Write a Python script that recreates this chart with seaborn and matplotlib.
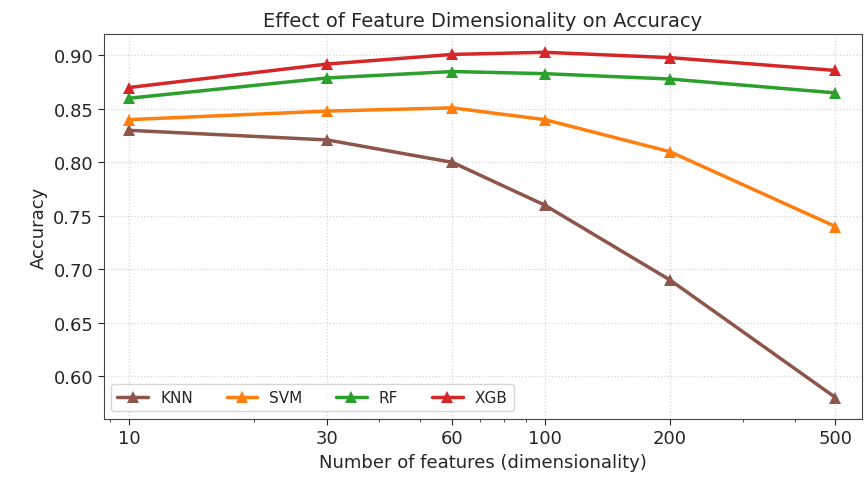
import pandas as pd
import numpy as np
import matplotlib.pyplot as plt
import seaborn as sns
from matplotlib.ticker import FixedLocator, FixedFormatter, LogLocator, NullFormatter

sns.set_style("white")
plt.rcParams['font.family'] = ['DejaVu Sans']

# Veri
n_features = [10, 30, 60, 100, 200, 500]
knn_acc = [0.830, 0.821, 0.800, 0.760, 0.690, 0.580]
svm_acc = [0.840, 0.848, 0.851, 0.840, 0.810, 0.740]
rf_acc = [0.860, 0.879, 0.885, 0.883, 0.878, 0.865]
xgb_acc = [0.870, 0.892, 0.901, 0.903, 0.898, 0.886]
models = ['KNN', 'SVM', 'RF', 'XGB']
colors = ['#8c564b', '#ff7f0e', '#2ca02c', '#d62728']

df = pd.DataFrame({
    'features': n_features * 4,
    'accuracy': knn_acc + svm_acc + rf_acc + xgb_acc,
    'model': sum([[m] * len(n_features) for m in models], []),
})

fig, ax = plt.subplots(figsize=(8.64, 4.81), dpi=100)
sns.lineplot(data=df, x='features', y='accuracy', hue='model', palette=colors,
             marker='^', markersize=9, markeredgewidth=0, linewidth=2.5, ax=ax)

ax.set_xscale('log')
ax.set_xlim(8.7, 580)
ax.set_ylim(0.56, 0.92)
ax.xaxis.set_major_locator(FixedLocator(n_features))
ax.xaxis.set_major_formatter(FixedFormatter([str(n) for n in n_features]))
ax.xaxis.set_minor_locator(LogLocator(base=10, subs=np.arange(2, 10)))
ax.xaxis.set_minor_formatter(NullFormatter())
ax.tick_params(axis='both', which='major', labelsize=13, length=4, direction='out', bottom=True, left=True)
ax.tick_params(axis='x', which='minor', length=2.5, bottom=True)

ax.grid(True, which='major', linestyle=':', linewidth=0.9, color='#d5d5d5')
for s in ax.spines.values():
    s.set_color('#444444')

ax.set_title('Effect of Feature Dimensionality on Accuracy', fontsize=14)
ax.set_xlabel('Number of features (dimensionality)', fontsize=13)
ax.set_ylabel('Accuracy', fontsize=13)
ax.legend(loc='lower left', ncol=4, fontsize=11, frameon=True, columnspacing=2.2)

plt.subplots_adjust(left=0.12, right=0.998, top=0.927, bottom=0.127)
plt.savefig('out.png', dpi=100)
